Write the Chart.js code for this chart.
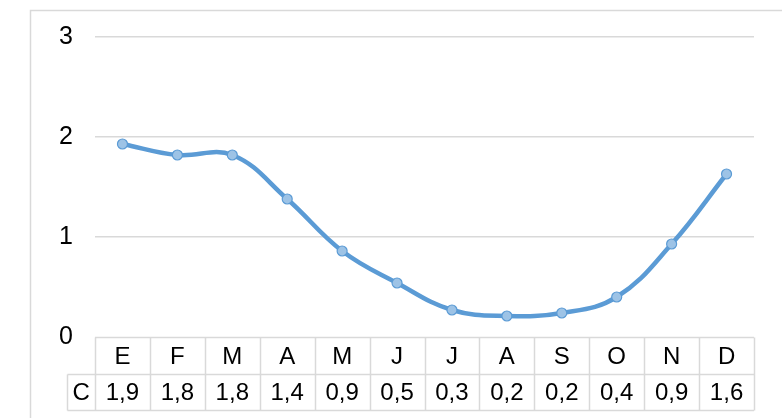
<!DOCTYPE html>
<html>
<head>
<meta charset="utf-8">
<script src="https://cdn.jsdelivr.net/npm/chart.js@4"></script>
<style>
  html, body { margin: 0; padding: 0; background: #fff; }
  #wrap { width: 782px; height: 418px; }
</style>
</head>
<body>
<div id="wrap"><canvas id="lineChart" width="782" height="418"></canvas></div>
<script>
const months = ['E', 'F', 'M', 'A', 'M', 'J', 'J', 'A', 'S', 'O', 'N', 'D'];
const seriesName = 'C';
const values = [1.93, 1.82, 1.82, 1.38, 0.86, 0.54, 0.27, 0.21, 0.24, 0.40, 0.93, 1.63];
const yTicks = [0, 1, 2, 3];

const FONT = "'Liberation Sans', Arial, sans-serif";
const BORDER = '#d9d9d9';

// excel-style data table under the plot + outer frame
const dataTable = {
  id: 'dataTable',
  afterDraw(chart) {
    const { ctx, chartArea } = chart;
    const left = chartArea.left;
    const right = chartArea.right;
    const colW = (right - left) / months.length;
    const top = Math.round(chartArea.bottom) + 0.5;
    const mid = top + 37;
    const bottom = top + 73;
    const headLeft = 67.5;

    ctx.save();
    ctx.strokeStyle = BORDER;
    ctx.lineWidth = 1.5;

    // frame of the whole chart (cut off on right and bottom)
    ctx.beginPath();
    ctx.moveTo(30.5, 418);
    ctx.lineTo(30.5, 10.5);
    ctx.lineTo(782, 10.5);
    ctx.stroke();

    ctx.beginPath();
    ctx.moveTo(left, top);
    ctx.lineTo(right, top);
    ctx.moveTo(headLeft, mid);
    ctx.lineTo(right, mid);
    ctx.moveTo(headLeft, bottom);
    ctx.lineTo(right, bottom);
    ctx.moveTo(headLeft, mid);
    ctx.lineTo(headLeft, bottom);
    for (let i = 0; i <= months.length; i++) {
      const x = Math.round(left + i * colW) + 0.5;
      ctx.moveTo(x, top);
      ctx.lineTo(x, bottom);
    }
    ctx.stroke();

    ctx.fillStyle = '#000';
    ctx.font = '24px ' + FONT;
    ctx.textAlign = 'center';
    ctx.textBaseline = 'middle';
    const xs = chart.scales.x;
    months.forEach((m, i) => {
      const cx = xs.getPixelForTick(i);
      ctx.fillText(m, cx, (top + mid) / 2 + 1);
      ctx.fillText(values[i].toFixed(1).replace('.', ','), cx, (mid + bottom) / 2 + 1);
    });
    ctx.fillText(seriesName, (headLeft + left) / 2, (mid + bottom) / 2 + 1);
    ctx.restore();
  }
};

new Chart(document.getElementById('lineChart'), {
  type: 'line',
  data: {
    labels: months,
    datasets: [{
      label: seriesName,
      data: values,
      borderColor: '#5b9bd5',
      borderWidth: 4.5,
      tension: 0.4,
      pointRadius: 5,
      pointBackgroundColor: '#9dc3e6',
      pointBorderColor: '#5b9bd5',
      pointBorderWidth: 1.2
    }]
  },
  options: {
    responsive: false,
    animation: false,
    layout: { padding: { left: 30, right: 28, top: 37, bottom: 8 } },
    scales: {
      x: {
        offset: true,
        grid: { display: false },
        border: { display: false },
        ticks: { display: false },
        afterFit: (scale) => { scale.height = 73; }
      },
      y: {
        min: 0,
        max: 3,
        afterBuildTicks: (scale) => { scale.ticks = yTicks.map(v => ({ value: v })); },
        afterFit: (scale) => { scale.width = 65; },
        grid: {
          color: (c) => c.tick && c.tick.value === 0 ? 'rgba(0,0,0,0)' : BORDER,
          lineWidth: 1.5,
          drawTicks: false
        },
        border: { display: false },
        ticks: {
          padding: 22,
          color: '#000',
          font: { family: FONT, size: 25 }
        }
      }
    },
    plugins: {
      legend: { display: false },
      tooltip: { enabled: false }
    }
  },
  plugins: [dataTable]
});
</script>
</body>
</html>
